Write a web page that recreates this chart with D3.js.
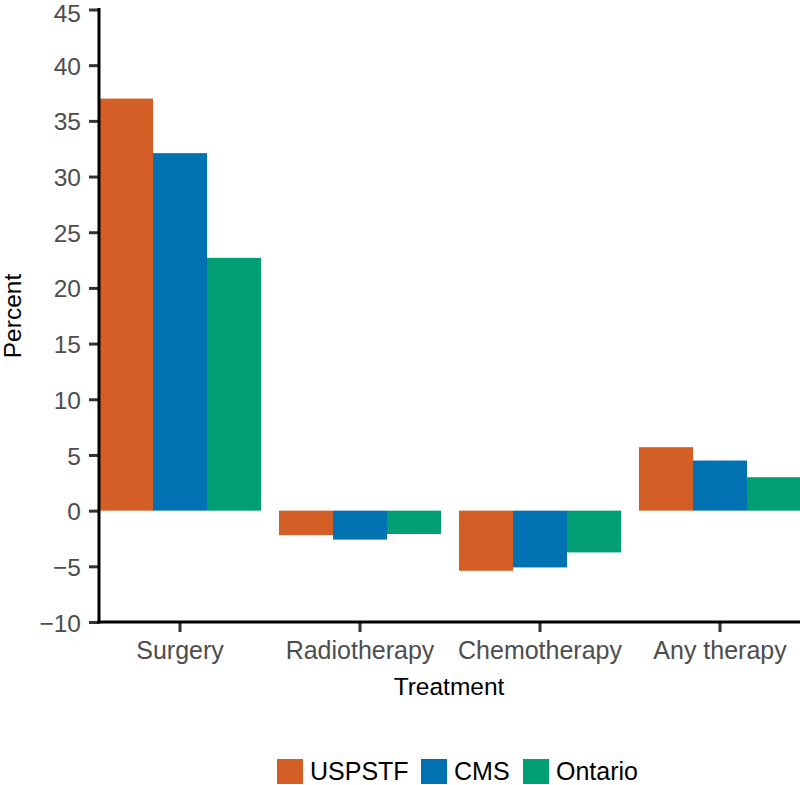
<!DOCTYPE html>
<html><head><meta charset="utf-8">
<script src="https://cdn.jsdelivr.net/npm/d3@7"></script>
<style>body{margin:0;background:#fff}svg{display:block;font-family:"Liberation Sans",Arial,sans-serif}</style>
</head><body><svg id="c" width="800" height="785"></svg>
<script>
const categories = ["Surgery","Radiotherapy","Chemotherapy","Any therapy"];
const seriesNames = ["USPSTF","CMS","Ontario"];
const seriesColors = ["#D35F27","#0072B2","#009E73"];
const uspstf = [37.0, -2.2, -5.4, 5.7];
const cms = [32.1, -2.6, -5.1, 4.5];
const ontario = [22.7, -2.1, -3.75, 3.0];
const yTicks = [45,40,35,30,25,20,15,10,5,0,-5,-10];

const seriesValues = [uspstf, cms, ontario];
const svg = d3.select("#c");
const x = d3.scaleBand().domain(categories).range([90, 810]).paddingInner(0.1).paddingOuter(0.05);
const xs = d3.scaleBand().domain(seriesNames).range([0, x.bandwidth()]);
const y = d3.scaleLinear().domain([-10, 45]).range([622, 9.5]);

const data = [];
categories.forEach((c, i) => seriesNames.forEach((s, j) => data.push({c, s, v: seriesValues[j][i], col: seriesColors[j]})));

svg.append("g").selectAll("rect").data(data).join("rect")
  .attr("x", d => x(d.c) + xs(d.s))
  .attr("width", xs.bandwidth())
  .attr("y", d => y(Math.max(0, d.v)))
  .attr("height", d => Math.abs(y(d.v) - y(0)))
  .attr("fill", d => d.col);

// y axis
const ya = svg.append("g").attr("transform", "translate(99,0)")
  .call(d3.axisLeft(y).tickValues(yTicks).tickSize(10).tickPadding(8).tickFormat(d => d < 0 ? "\u2212" + Math.abs(d) : d));
ya.select(".domain").remove();
ya.selectAll(".tick line").attr("stroke", "#333").attr("stroke-width", 3);
ya.selectAll(".tick text").attr("fill", "#4d4d4d").attr("font-size", 24.5).attr("font-family", "Liberation Sans, Arial, sans-serif")
  .attr("dy", d => d === 45 ? "0.5em" : "0.37em");
svg.append("line").attr("x1", 99).attr("x2", 99).attr("y1", y(45) - 1.5).attr("y2", 623.5).attr("stroke", "#000").attr("stroke-width", 3);

// x axis
const xa = svg.append("g").attr("transform", "translate(0,622)")
  .call(d3.axisBottom(x).tickSize(10).tickPadding(6));
xa.select(".domain").remove();
xa.selectAll(".tick line").attr("stroke", "#333").attr("stroke-width", 3);
xa.selectAll(".tick text").attr("fill", "#4d4d4d").attr("font-size", 25).attr("font-family", "Liberation Sans, Arial, sans-serif").attr("dy", "0.82em");
svg.append("line").attr("x1", 97.5).attr("x2", 800).attr("y1", 622).attr("y2", 622).attr("stroke", "#000").attr("stroke-width", 3);

// axis titles
svg.append("text").attr("x", 449).attr("y", 695).attr("text-anchor", "middle").attr("font-size", 24.5).attr("fill", "#000").text("Treatment");
svg.append("text").attr("transform", "translate(21,316) rotate(-90)").attr("text-anchor", "middle").attr("font-size", 24.5).attr("fill", "#000").text("Percent");

// legend
const legX = [277, 421, 523];
const lg = svg.append("g");
seriesNames.forEach((s, i) => {
  lg.append("rect").attr("x", legX[i]).attr("y", 759).attr("width", 26).attr("height", 25).attr("fill", seriesColors[i]);
  lg.append("text").attr("x", legX[i] + 33).attr("y", 780).attr("font-size", 25).attr("fill", "#000").text(s);
});
</script></body></html>
